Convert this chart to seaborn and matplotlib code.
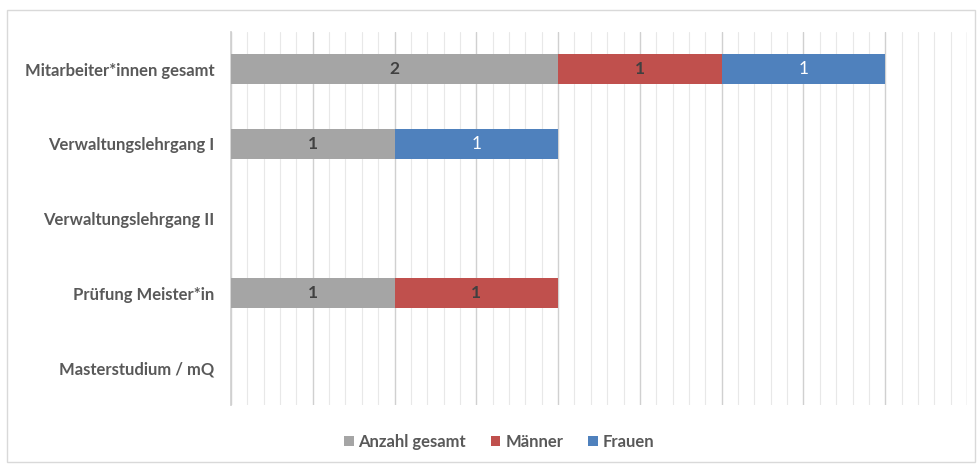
import numpy as np
import pandas as pd
import matplotlib.pyplot as plt
import seaborn as sns
from matplotlib.patches import Patch, Rectangle
from matplotlib.ticker import MultipleLocator

# data
categories = ["Mitarbeiter*innen gesamt", "Verwaltungslehrgang I", "Verwaltungslehrgang II",
              "Prüfung Meister*in", "Masterstudium / mQ"]
anzahl = [2, 1, 0, 1, 0]
maenner = [1, 0, 0, 1, 0]
frauen = [1, 1, 0, 0, 0]
series = ["Anzahl gesamt", "Männer", "Frauen"]
colors = ["#A5A5A5", "#C0504D", "#4F81BD"]
label_colors = ["#404040", "#404040", "#FFFFFF"]

df = pd.DataFrame({"Kategorie": categories, "Anzahl gesamt": anzahl,
                   "Männer": maenner, "Frauen": frauen})
cum = df[series].cumsum(axis=1)

sns.set_theme(style="white")
plt.rcParams["font.family"] = ["Lato", "DejaVu Sans"]

fig = plt.figure(figsize=(9.79, 4.67), dpi=100)
ax = fig.add_axes([231 / 979, 1 - 405 / 467, (967 - 231) / 979, (405 - 32) / 467])

# draw stacked layers back to front
for s, c in reversed(list(zip(series, colors))):
    sns.barplot(data=cum.assign(Kategorie=df["Kategorie"]), x=s, y="Kategorie",
                color=c, width=0.4, orient="h", ax=ax, saturation=1, zorder=3,
                linewidth=0, edgecolor="none")

# value labels
for i in range(len(df)):
    left = 0
    for s, lc in zip(series, label_colors):
        v = df.loc[i, s]
        if v > 0:
            ax.text(left + v / 2, i, str(v), ha="center", va="center", fontsize=12.5,
                    color=lc, fontweight="bold" if lc != "#FFFFFF" else "normal", zorder=4)
        left += v

ax.set_xlim(0, 4.5)
ax.xaxis.set_major_locator(MultipleLocator(0.5))
ax.xaxis.set_minor_locator(MultipleLocator(0.1))
ax.grid(axis="x", which="major", color="#D0D0D0", linewidth=1.0, zorder=0)
ax.grid(axis="x", which="minor", color="#E8E8E8", linewidth=0.8, zorder=0)
ax.set_axisbelow(True)
ax.tick_params(axis="x", which="both", bottom=False, labelbottom=False)
ax.tick_params(axis="y", length=0, pad=12)
for t in ax.get_yticklabels():
    t.set_fontweight("bold")
    t.set_color("#595959")
    t.set_fontsize(12)
ax.set_xlabel("")
ax.set_ylabel("")
for side in ["top", "right", "bottom"]:
    ax.spines[side].set_visible(False)
ax.spines["left"].set_color("#D0D0D0")

# outer frame
fig.patches.append(Rectangle((7 / 979, 5 / 467), 968 / 979, 452 / 467, transform=fig.transFigure,
                             fill=False, edgecolor="#D9D9D9", linewidth=1))

handles = [Patch(facecolor=c, edgecolor="none", label=s) for s, c in zip(series, colors)]
leg = fig.legend(handles=handles, loc="center", bbox_to_anchor=(0.51, 1 - 442 / 467), ncol=3,
                 frameon=False, handlelength=0.55, handleheight=0.55, handletextpad=0.3,
                 columnspacing=1.5, fontsize=12)
for t in leg.get_texts():
    t.set_color("#595959")
    t.set_fontweight("bold")

fig.savefig("out.png", dpi=100)
